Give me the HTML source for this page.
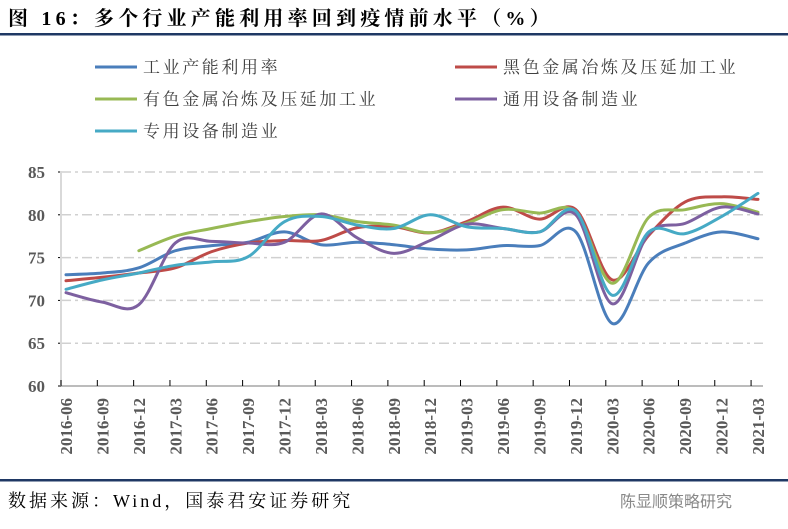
<!DOCTYPE html>
<html><head><meta charset="utf-8"><style>
body{margin:0;background:#fff;}
svg{display:block;}
</style></head><body>
<svg width="788" height="529" viewBox="0 0 788 529" xmlns="http://www.w3.org/2000/svg">
<text x="8" y="25" font-family="'Liberation Serif','Noto Serif CJK SC',serif" font-size="20" font-weight="bold" letter-spacing="4.2" fill="#000">图 16：多个行业产能利用率回到疫情前水平（%）</text>
<rect x="0" y="33" width="788" height="2.5" fill="#1f3864"/>
<g id="legend"></g>
<g id="grid"></g>
<g id="axes"></g>
<g id="series"></g>
<rect x="0" y="479" width="788" height="2.5" fill="#1f3864"/>
<text x="8" y="507" font-family="'Liberation Serif','Noto Serif CJK SC',serif" font-size="18" letter-spacing="3" fill="#000">数据来源：Wind，国泰君安证券研究</text>
<text x="620" y="507" font-family="'Liberation Sans','Noto Sans CJK SC',sans-serif" font-size="16" fill="#888">陈显顺策略研究</text>
</svg>
<script>
const categories=["2016-06","2016-09","2016-12","2017-03","2017-06","2017-09","2017-12","2018-03","2018-06","2018-09","2018-12","2019-03","2019-06","2019-09","2019-12","2020-03","2020-06","2020-09","2020-12","2021-03"];
const yTicks=[60,65,70,75,80,85];
const seriesNames=["工业产能利用率","黑色金属冶炼及压延加工业","有色金属冶炼及压延加工业","通用设备制造业","专用设备制造业"];
const industrial=[73.0,73.2,73.8,75.8,76.4,76.8,78.0,76.5,76.8,76.5,76.0,75.9,76.4,76.4,78.0,67.3,74.4,76.7,78.0,77.2];
const ferrous=[72.3,72.7,73.2,73.8,75.7,76.7,77.0,77.0,78.5,78.6,77.9,79.2,80.9,79.5,80.6,72.4,77.6,81.5,82.1,81.8];
const nonferrous=[null,null,75.8,77.5,78.4,79.2,79.8,80.0,79.2,78.8,77.9,79.0,80.6,80.2,80.3,72.0,79.7,80.6,81.3,80.3];
const generalEquip=[70.9,69.8,69.5,76.7,76.9,76.7,76.8,80.1,77.3,75.5,77.0,78.9,78.4,78.0,80.0,69.6,77.8,79.0,80.9,80.1];
const specialEquip=[71.3,72.4,73.2,74.1,74.5,75.1,79.2,79.8,78.8,78.4,80.0,78.6,78.4,78.0,80.4,70.6,78.0,77.8,79.8,82.5];
const allSeries=[industrial,ferrous,nonferrous,generalEquip,specialEquip];
const colors=["#4a7ebb","#be4b48","#98b954","#7d60a0","#46aac5"];
const NS="http://www.w3.org/2000/svg";
const X0=66,DX=36.42,Y60=386,PPU=8.56;
function xs(i){return X0+i*DX;}
function ys(v){return Y60-(v-60)*PPU;}
function mk(tag,attrs,parent){const e=document.createElementNS(NS,tag);for(const k in attrs)e.setAttribute(k,attrs[k]);parent.appendChild(e);return e;}
const grid=document.getElementById('grid'),axes=document.getElementById('axes'),ser=document.getElementById('series'),leg=document.getElementById('legend');
const serif="'Liberation Serif','Noto Serif CJK SC',serif";
yTicks.forEach(t=>{
  if(t>60){const g=mk('line',{x1:61,x2:763,y1:ys(t),y2:ys(t),stroke:'#d0d0d0','stroke-width':1.5,'stroke-dasharray':'10 4 3 4'},grid);
  
  }
  const tk=mk('line',{x1:58,x2:62,y1:ys(t),y2:ys(t),stroke:'#000','stroke-width':1},axes);
  
  
  const lb=mk('text',{x:45,y:ys(t)+6,'text-anchor':'end','font-family':serif,'font-size':17,'font-weight':'bold',fill:'#595959'},axes);
  lb.textContent=t;
  
  
});
const ya=mk('line',{x1:61,x2:61,y1:ys(85)-1,y2:386,stroke:'#d9d9d9','stroke-width':2},axes);


const xa=mk('line',{x1:61,x2:763,y1:386,y2:386,stroke:'#a6a6a6','stroke-width':1.5},axes);


categories.forEach((c,i)=>{
  const tx=61+i*36.32;
  const tk=mk('line',{x1:tx,x2:tx,y1:380,y2:386,stroke:'#000','stroke-width':1},axes);
  
  
  const lb=mk('text',{x:0,y:0,transform:`translate(${xs(i)+6},398) rotate(-90)`,'text-anchor':'end','font-family':serif,'font-size':17,'font-weight':'bold',fill:'#595959'},axes);
  lb.textContent=c;
  
  
});
function smoothPath(arr){
  const pts=[];arr.forEach((v,i)=>{if(v!==null)pts.push([xs(i),ys(v)]);});
  let d=`M${pts[0][0]},${pts[0][1]}`;
  for(let i=0;i<pts.length-1;i++){
    const p0=pts[i-1]||pts[i],p1=pts[i],p2=pts[i+1],p3=pts[i+2]||p2;
    const t=1/6;
    const c1=[p1[0]+(p2[0]-p0[0])*t,p1[1]+(p2[1]-p0[1])*t];
    const c2=[p2[0]-(p3[0]-p1[0])*t,p2[1]-(p3[1]-p1[1])*t];
    d+=` C${c1[0]},${c1[1]} ${c2[0]},${c2[1]} ${p2[0]},${p2[1]}`;
  }
  return d;
}
const keys=['industrial','ferrous','nonferrous','general-equipment','special-equipment'];
allSeries.forEach((s,k)=>{
  const p=mk('path',{d:smoothPath(s),fill:'none',stroke:colors[k],'stroke-width':3,'stroke-linejoin':'round','stroke-linecap':'round'},ser);
  
  
});
const legPos=[[95,67],[455,67],[95,99],[455,99],[95,131]];
seriesNames.forEach((n,k)=>{
  const [lx,ly]=legPos[k];
  const l=mk('line',{x1:lx,x2:lx+42,y1:ly,y2:ly,stroke:colors[k],'stroke-width':3},leg);
  
  
  const t=mk('text',{x:lx+48,y:ly+6,'font-family':serif,'font-size':17,'letter-spacing':2.6,fill:'#404040'},leg);
  t.textContent=n;
  
  
});
</script>
</body></html>
